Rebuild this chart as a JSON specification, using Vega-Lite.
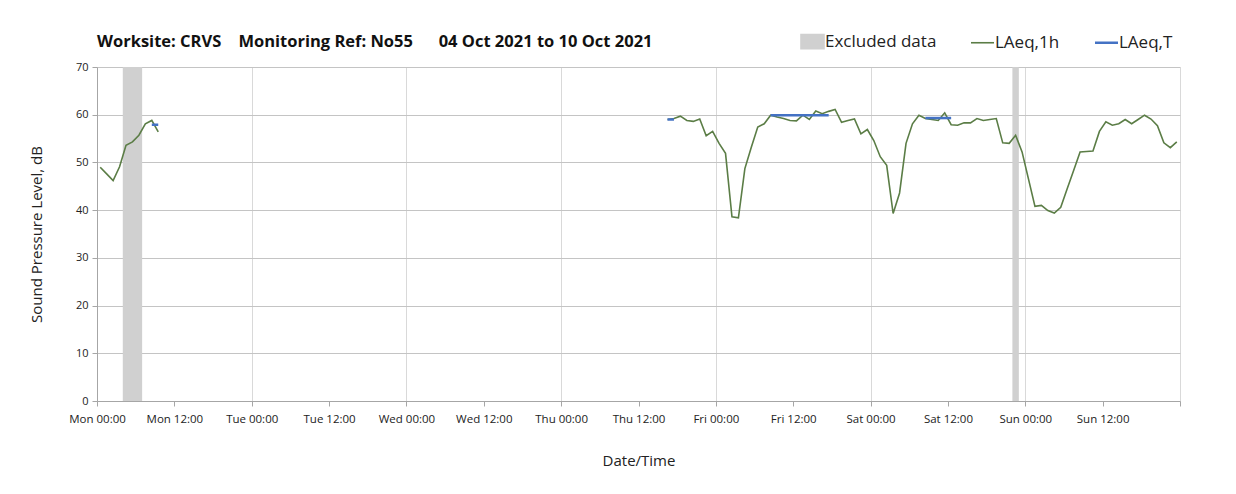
{
  "$schema": "https://vega.github.io/schema/vega-lite/v6.json",
  "width": 1083,
  "height": 334,
  "autosize": {"type": "none"},
  "padding": {"left": 97, "top": 67, "right": 56, "bottom": 93},
  "background": "white",
  "title": {"text": "Worksite: CRVS\u00a0\u00a0\u00a0\u00a0Monitoring Ref: No55\u00a0\u00a0\u00a0\u00a0\u00a0\u00a004 Oct 2021 to 10 Oct 2021", "anchor": "start", "frame": "group", "font": "Open Sans", "fontSize": 16.5, "fontWeight": "bold", "color": "#111111", "offset": -17},
  "config": {"view": {"stroke": null}, "font": "Open Sans"},
  "datasets": {
    "excluded": [
      {"start": "2021-10-04T04:00", "end": "2021-10-04T07:00"},
      {"start": "2021-10-09T22:00", "end": "2021-10-09T23:00"}
    ],
    "laeq1h": [
      {"t": "2021-10-04T00:30", "v": 49.0, "s": 1},
      {"t": "2021-10-04T01:30", "v": 47.6, "s": 1},
      {"t": "2021-10-04T02:30", "v": 46.2, "s": 1},
      {"t": "2021-10-04T03:30", "v": 49.1, "s": 1},
      {"t": "2021-10-04T04:30", "v": 53.6, "s": 1},
      {"t": "2021-10-04T05:30", "v": 54.3, "s": 1},
      {"t": "2021-10-04T06:30", "v": 55.7, "s": 1},
      {"t": "2021-10-04T07:30", "v": 58.1, "s": 1},
      {"t": "2021-10-04T08:30", "v": 58.8, "s": 1},
      {"t": "2021-10-04T09:30", "v": 56.4, "s": 1},
      {"t": "2021-10-07T16:30", "v": 59.0, "s": 2},
      {"t": "2021-10-07T17:30", "v": 59.2, "s": 2},
      {"t": "2021-10-07T18:30", "v": 59.7, "s": 2},
      {"t": "2021-10-07T19:30", "v": 58.8, "s": 2},
      {"t": "2021-10-07T20:30", "v": 58.6, "s": 2},
      {"t": "2021-10-07T21:30", "v": 59.1, "s": 2},
      {"t": "2021-10-07T22:30", "v": 55.6, "s": 2},
      {"t": "2021-10-07T23:30", "v": 56.5, "s": 2},
      {"t": "2021-10-08T00:30", "v": 54.0, "s": 2},
      {"t": "2021-10-08T01:30", "v": 51.9, "s": 2},
      {"t": "2021-10-08T02:30", "v": 38.6, "s": 2},
      {"t": "2021-10-08T03:30", "v": 38.4, "s": 2},
      {"t": "2021-10-08T04:30", "v": 48.7, "s": 2},
      {"t": "2021-10-08T05:30", "v": 53.2, "s": 2},
      {"t": "2021-10-08T06:30", "v": 57.4, "s": 2},
      {"t": "2021-10-08T07:30", "v": 58.1, "s": 2},
      {"t": "2021-10-08T08:30", "v": 59.9, "s": 2},
      {"t": "2021-10-08T09:30", "v": 59.5, "s": 2},
      {"t": "2021-10-08T10:30", "v": 59.2, "s": 2},
      {"t": "2021-10-08T11:30", "v": 58.8, "s": 2},
      {"t": "2021-10-08T12:30", "v": 58.7, "s": 2},
      {"t": "2021-10-08T13:30", "v": 59.9, "s": 2},
      {"t": "2021-10-08T14:30", "v": 59.0, "s": 2},
      {"t": "2021-10-08T15:30", "v": 60.8, "s": 2},
      {"t": "2021-10-08T16:30", "v": 60.2, "s": 2},
      {"t": "2021-10-08T17:30", "v": 60.7, "s": 2},
      {"t": "2021-10-08T18:30", "v": 61.1, "s": 2},
      {"t": "2021-10-08T19:30", "v": 58.4, "s": 2},
      {"t": "2021-10-08T20:30", "v": 58.8, "s": 2},
      {"t": "2021-10-08T21:30", "v": 59.1, "s": 2},
      {"t": "2021-10-08T22:30", "v": 56.0, "s": 2},
      {"t": "2021-10-08T23:30", "v": 56.9, "s": 2},
      {"t": "2021-10-09T00:30", "v": 54.6, "s": 2},
      {"t": "2021-10-09T01:30", "v": 51.2, "s": 2},
      {"t": "2021-10-09T02:30", "v": 49.4, "s": 2},
      {"t": "2021-10-09T03:30", "v": 39.3, "s": 2},
      {"t": "2021-10-09T04:30", "v": 43.6, "s": 2},
      {"t": "2021-10-09T05:30", "v": 54.0, "s": 2},
      {"t": "2021-10-09T06:30", "v": 58.1, "s": 2},
      {"t": "2021-10-09T07:30", "v": 59.9, "s": 2},
      {"t": "2021-10-09T08:30", "v": 59.2, "s": 2},
      {"t": "2021-10-09T09:30", "v": 59.0, "s": 2},
      {"t": "2021-10-09T10:30", "v": 58.8, "s": 2},
      {"t": "2021-10-09T11:30", "v": 60.4, "s": 2},
      {"t": "2021-10-09T12:30", "v": 57.9, "s": 2},
      {"t": "2021-10-09T13:30", "v": 57.8, "s": 2},
      {"t": "2021-10-09T14:30", "v": 58.3, "s": 2},
      {"t": "2021-10-09T15:30", "v": 58.3, "s": 2},
      {"t": "2021-10-09T16:30", "v": 59.2, "s": 2},
      {"t": "2021-10-09T17:30", "v": 58.8, "s": 2},
      {"t": "2021-10-09T18:30", "v": 59.0, "s": 2},
      {"t": "2021-10-09T19:30", "v": 59.2, "s": 2},
      {"t": "2021-10-09T20:30", "v": 54.1, "s": 2},
      {"t": "2021-10-09T21:30", "v": 54.0, "s": 2},
      {"t": "2021-10-09T22:30", "v": 55.7, "s": 2},
      {"t": "2021-10-09T23:30", "v": 52.2, "s": 2},
      {"t": "2021-10-10T00:30", "v": 46.5, "s": 2},
      {"t": "2021-10-10T01:30", "v": 40.8, "s": 2},
      {"t": "2021-10-10T02:30", "v": 41.0, "s": 2},
      {"t": "2021-10-10T03:30", "v": 39.9, "s": 2},
      {"t": "2021-10-10T04:30", "v": 39.4, "s": 2},
      {"t": "2021-10-10T05:30", "v": 40.6, "s": 2},
      {"t": "2021-10-10T06:30", "v": 44.5, "s": 2},
      {"t": "2021-10-10T07:30", "v": 48.3, "s": 2},
      {"t": "2021-10-10T08:30", "v": 52.2, "s": 2},
      {"t": "2021-10-10T09:30", "v": 52.3, "s": 2},
      {"t": "2021-10-10T10:30", "v": 52.4, "s": 2},
      {"t": "2021-10-10T11:30", "v": 56.5, "s": 2},
      {"t": "2021-10-10T12:30", "v": 58.5, "s": 2},
      {"t": "2021-10-10T13:30", "v": 57.8, "s": 2},
      {"t": "2021-10-10T14:30", "v": 58.1, "s": 2},
      {"t": "2021-10-10T15:30", "v": 59.0, "s": 2},
      {"t": "2021-10-10T16:30", "v": 58.1, "s": 2},
      {"t": "2021-10-10T17:30", "v": 59.0, "s": 2},
      {"t": "2021-10-10T18:30", "v": 59.9, "s": 2},
      {"t": "2021-10-10T19:30", "v": 59.1, "s": 2},
      {"t": "2021-10-10T20:30", "v": 57.7, "s": 2},
      {"t": "2021-10-10T21:30", "v": 54.1, "s": 2},
      {"t": "2021-10-10T22:30", "v": 53.1, "s": 2},
      {"t": "2021-10-10T23:30", "v": 54.3, "s": 2}
    ],
    "laeqT": [
      {"t": "2021-10-04T08:30", "v": 57.9, "s": 1},
      {"t": "2021-10-04T09:30", "v": 57.9, "s": 1},
      {"t": "2021-10-07T16:30", "v": 59.0, "s": 2},
      {"t": "2021-10-07T17:30", "v": 59.0, "s": 2},
      {"t": "2021-10-08T08:30", "v": 59.9, "s": 3},
      {"t": "2021-10-08T09:30", "v": 59.9, "s": 3},
      {"t": "2021-10-08T10:30", "v": 59.9, "s": 3},
      {"t": "2021-10-08T11:30", "v": 59.9, "s": 3},
      {"t": "2021-10-08T12:30", "v": 59.9, "s": 3},
      {"t": "2021-10-08T13:30", "v": 59.9, "s": 3},
      {"t": "2021-10-08T14:30", "v": 59.9, "s": 3},
      {"t": "2021-10-08T15:30", "v": 59.9, "s": 3},
      {"t": "2021-10-08T16:30", "v": 59.9, "s": 3},
      {"t": "2021-10-08T17:30", "v": 59.9, "s": 3},
      {"t": "2021-10-09T08:30", "v": 59.3, "s": 4},
      {"t": "2021-10-09T09:30", "v": 59.3, "s": 4},
      {"t": "2021-10-09T10:30", "v": 59.3, "s": 4},
      {"t": "2021-10-09T11:30", "v": 59.3, "s": 4},
      {"t": "2021-10-09T12:30", "v": 59.3, "s": 4}
    ]
  },
  "layer": [
    {
      "data": {"name": "excluded"},
      "mark": {"type": "rect"},
      "encoding": {
        "x": {
          "field": "start", "type": "temporal", "title": "Date/Time",
          "scale": {"domain": [{"year": 2021, "month": 10, "date": 4, "hours": 0}, {"year": 2021, "month": 10, "date": 11, "hours": 0}], "nice": false},
          "axis": {
            "values": [
              {"year": 2021, "month": 10, "date": 4, "hours": 0}, {"year": 2021, "month": 10, "date": 4, "hours": 12},
              {"year": 2021, "month": 10, "date": 5, "hours": 0}, {"year": 2021, "month": 10, "date": 5, "hours": 12},
              {"year": 2021, "month": 10, "date": 6, "hours": 0}, {"year": 2021, "month": 10, "date": 6, "hours": 12},
              {"year": 2021, "month": 10, "date": 7, "hours": 0}, {"year": 2021, "month": 10, "date": 7, "hours": 12},
              {"year": 2021, "month": 10, "date": 8, "hours": 0}, {"year": 2021, "month": 10, "date": 8, "hours": 12},
              {"year": 2021, "month": 10, "date": 9, "hours": 0}, {"year": 2021, "month": 10, "date": 9, "hours": 12},
              {"year": 2021, "month": 10, "date": 10, "hours": 0}, {"year": 2021, "month": 10, "date": 10, "hours": 12},
              {"year": 2021, "month": 10, "date": 11, "hours": 0}
            ],
            "format": "%a %H:%M",
            "labelExpr": "date(datum.value) == 11 ? '' : datum.label",
            "labelFont": "Open Sans", "labelFontSize": 11.5, "labelColor": "#222222",
            "labelPadding": 7, "labelOverlap": false, "labelFlush": false,
            "tickColor": "#a6a6a6", "tickSize": 5,
            "domainColor": "#a6a6a6",
            "gridColor": "#d9d9d9",
            "gridOpacity": {"condition": {"test": "hours(datum.value) == 0", "value": 1}, "value": 0},
            "titleFont": "Open Sans", "titleFontSize": 15, "titleFontWeight": "normal", "titleColor": "#222222", "titlePadding": 29
          }
        },
        "x2": {"field": "end"},
        "color": {
          "datum": "Excluded data", "type": "nominal",
          "scale": {"domain": ["Excluded data", "LAeq,1h", "LAeq,T"], "range": ["#d0d0d0", "#5b7d46", "#4472c4"]},
          "legend": {
            "orient": "none", "legendX": 707, "legendY": -34,
            "direction": "horizontal", "title": null,
            "labelFont": "Open Sans", "labelFontSize": 17, "labelColor": "#222222",
            "symbolSize": 529, "symbolStrokeWidth": 2, "columnPadding": 30, "labelOffset": 4,
            "encode": {
              "symbols": {
                "update": {
                  "shape": {"signal": "datum.value === 'Excluded data' ? 'M-1,-0.62H1V0.62H-1Z' : 'stroke'"},
                  "fill": {"signal": "datum.value === 'Excluded data' ? '#d0d0d0' : 'transparent'"},
                  "stroke": {"signal": "datum.value === 'Excluded data' ? 'transparent' : (datum.value === 'LAeq,1h' ? '#5b7d46' : '#4472c4')"},
                  "strokeWidth": {"signal": "datum.value === 'LAeq,T' ? 2.5 : 1.6"}
                }
              }
            }
          }
        }
      }
    },
    {
      "data": {"name": "laeq1h"},
      "mark": {"type": "line", "strokeWidth": 1.6},
      "encoding": {
        "x": {"field": "t", "type": "temporal", "title": "Date/Time"},
        "y": {
          "field": "v", "type": "quantitative", "title": "Sound Pressure Level, dB",
          "scale": {"domain": [0, 70], "nice": false},
          "axis": {
            "values": [0, 10, 20, 30, 40, 50, 60, 70],
            "labelFont": "Open Sans", "labelFontSize": 11, "labelColor": "#222222", "labelPadding": 4,
            "gridColor": "#c4c4c4", "domainColor": "#a6a6a6", "tickColor": "#a6a6a6", "tickSize": 5,
            "titleFont": "Open Sans", "titleFontSize": 15, "titleFontWeight": "normal", "titleColor": "#222222", "titlePadding": 31
          }
        },
        "color": {"datum": "LAeq,1h", "type": "nominal"},
        "detail": {"field": "s", "type": "nominal"}
      }
    },
    {
      "data": {"name": "laeqT"},
      "mark": {"type": "line", "strokeWidth": 2.5},
      "encoding": {
        "x": {"field": "t", "type": "temporal", "title": "Date/Time"},
        "y": {"field": "v", "type": "quantitative", "title": "Sound Pressure Level, dB"},
        "color": {"datum": "LAeq,T", "type": "nominal"},
        "detail": {"field": "s", "type": "nominal"}
      }
    }
  ]
}
